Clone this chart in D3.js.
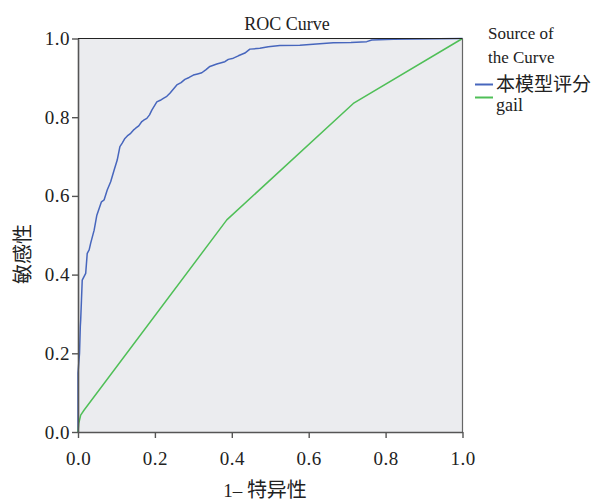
<!DOCTYPE html>
<html>
<head>
<meta charset="utf-8">
<script src="https://cdn.jsdelivr.net/npm/d3@7"></script>
<style>
  body { margin: 0; background: #fff; }
  text { font-family: "Liberation Serif", "DejaVu Serif", serif; fill: #222; }
  .cjk { font-family: "Noto Sans CJK SC", sans-serif; }
</style>
</head>
<body>
<svg width="605" height="502"></svg>
<script>
// values
var modelFpr = [0, 0, 0.004, 0.006, 0.007, 0.009, 0.011, 0.02, 0.024, 0.029, 0.033, 0.042, 0.049, 0.055, 0.061, 0.068, 0.076, 0.085, 0.094, 0.102, 0.109, 0.115, 0.122, 0.13, 0.137, 0.144, 0.15, 0.158, 0.166, 0.172, 0.179, 0.186, 0.192, 0.205, 0.214, 0.222, 0.231, 0.239, 0.257, 0.268, 0.278, 0.289, 0.3, 0.311, 0.322, 0.333, 0.343, 0.361, 0.382, 0.391, 0.404, 0.417, 0.434, 0.447, 0.473, 0.495, 0.525, 0.577, 0.62, 0.664, 0.71, 0.751, 0.764, 0.82, 0.88, 1];
var modelTpr = [0, 0.15, 0.2, 0.268, 0.285, 0.335, 0.386, 0.403, 0.454, 0.463, 0.48, 0.513, 0.551, 0.568, 0.585, 0.59, 0.615, 0.636, 0.666, 0.691, 0.725, 0.734, 0.746, 0.754, 0.759, 0.767, 0.772, 0.778, 0.789, 0.793, 0.797, 0.806, 0.818, 0.839, 0.843, 0.848, 0.853, 0.861, 0.882, 0.888, 0.896, 0.901, 0.907, 0.91, 0.913, 0.921, 0.929, 0.935, 0.941, 0.947, 0.95, 0.956, 0.963, 0.973, 0.975, 0.979, 0.982, 0.983, 0.986, 0.989, 0.99, 0.992, 0.996, 0.998, 0.999, 1];
var gailFpr = [0, 0.002, 0.007, 0.016, 0.387, 0.716, 1];
var gailTpr = [0, 0.022, 0.043, 0.056, 0.539, 0.835, 1];
var tickValues = [0, 0.2, 0.4, 0.6, 0.8, 1];
var seriesNames = ["本模型评分", "gail"];
var seriesColors = ["#4766bd", "#4fbf57"];

var svg = d3.select("svg");
var plotLeft = 78, plotTop = 38.5, plotRight = 462.5, plotBottom = 432;

var x = d3.scaleLinear().domain([0, 1]).range([plotLeft, plotRight]);
var y = d3.scaleLinear().domain([0, 1]).range([plotBottom, plotTop]);

svg.append("rect")
  .attr("x", plotLeft).attr("y", plotTop)
  .attr("width", plotRight - plotLeft).attr("height", plotBottom - plotTop)
  .attr("fill", "#ebecef");

var line = d3.line()
  .x(function (d) { return x(d[0]); })
  .y(function (d) { return y(d[1]); });

var series = [d3.zip(modelFpr, modelTpr), d3.zip(gailFpr, gailTpr)];

svg.selectAll(".roc")
  .data(series)
  .enter()
  .append("path")
  .attr("class", "roc")
  .attr("d", line)
  .attr("fill", "none")
  .attr("stroke", function (d, i) { return seriesColors[i]; })
  .attr("stroke-width", 1.5)
  .attr("stroke-linejoin", "round");

// frame: top and right
svg.append("line").attr("x1", plotLeft).attr("x2", plotRight).attr("y1", plotTop).attr("y2", plotTop)
  .attr("stroke", "#222").attr("stroke-width", 1.2);
svg.append("line").attr("x1", plotRight).attr("x2", plotRight).attr("y1", plotTop).attr("y2", plotBottom)
  .attr("stroke", "#666").attr("stroke-width", 1.2);

var fmt = d3.format(".1f");

var xAxis = svg.append("g")
  .attr("transform", "translate(0," + plotBottom + ")")
  .call(d3.axisBottom(x).tickValues(tickValues).tickFormat(fmt).tickSize(6).tickSizeOuter(0).tickPadding(14));
var yAxis = svg.append("g")
  .attr("transform", "translate(" + plotLeft + ",0)")
  .call(d3.axisLeft(y).tickValues(tickValues).tickFormat(fmt).tickSize(6).tickSizeOuter(0).tickPadding(2));

[xAxis, yAxis].forEach(function (g) {
  g.select(".domain").attr("stroke", "#555").attr("stroke-width", 1.6);
  g.selectAll(".tick line").attr("stroke", "#555").attr("stroke-width", 1.4);
  g.selectAll(".tick text")
    .attr("font-family", "Liberation Serif, serif")
    .attr("font-size", 19)
    .attr("letter-spacing", 0.5)
    .attr("fill", "#222");
});

svg.append("text")
  .attr("x", 287).attr("y", 30)
  .attr("text-anchor", "middle")
  .attr("font-size", 18)
  .text("ROC Curve");

svg.append("text")
  .attr("class", "cjk")
  .attr("transform", "translate(30,254) rotate(-90)")
  .attr("text-anchor", "middle")
  .attr("font-size", 20)
  .text("敏感性");

var xl = svg.append("text")
  .attr("x", 265).attr("y", 497)
  .attr("text-anchor", "middle")
  .attr("font-size", 19);
xl.append("tspan").text("1– ");
xl.append("tspan").attr("class", "cjk").attr("font-size", 20).text("特异性");

// legend
svg.append("text").attr("x", 488).attr("y", 39).attr("font-size", 17).text("Source of");
svg.append("text").attr("x", 488).attr("y", 63).attr("font-size", 17).text("the Curve");

var legend = svg.selectAll(".leg")
  .data(seriesNames)
  .enter()
  .append("g")
  .attr("class", "leg")
  .attr("transform", function (d, i) { return "translate(475," + (84.5 + i * 13) + ")"; });

legend.append("line")
  .attr("x1", 0).attr("x2", 18)
  .attr("stroke", function (d, i) { return seriesColors[i]; })
  .attr("stroke-width", 2);

legend.append("text")
  .attr("x", 21)
  .attr("y", function (d, i) { return i === 0 ? 6 : 13; })
  .attr("class", function (d, i) { return i === 0 ? "cjk" : null; })
  .attr("font-size", function (d, i) { return i === 0 ? 19 : 18; })
  .text(function (d) { return d; });
</script>
</body>
</html>
